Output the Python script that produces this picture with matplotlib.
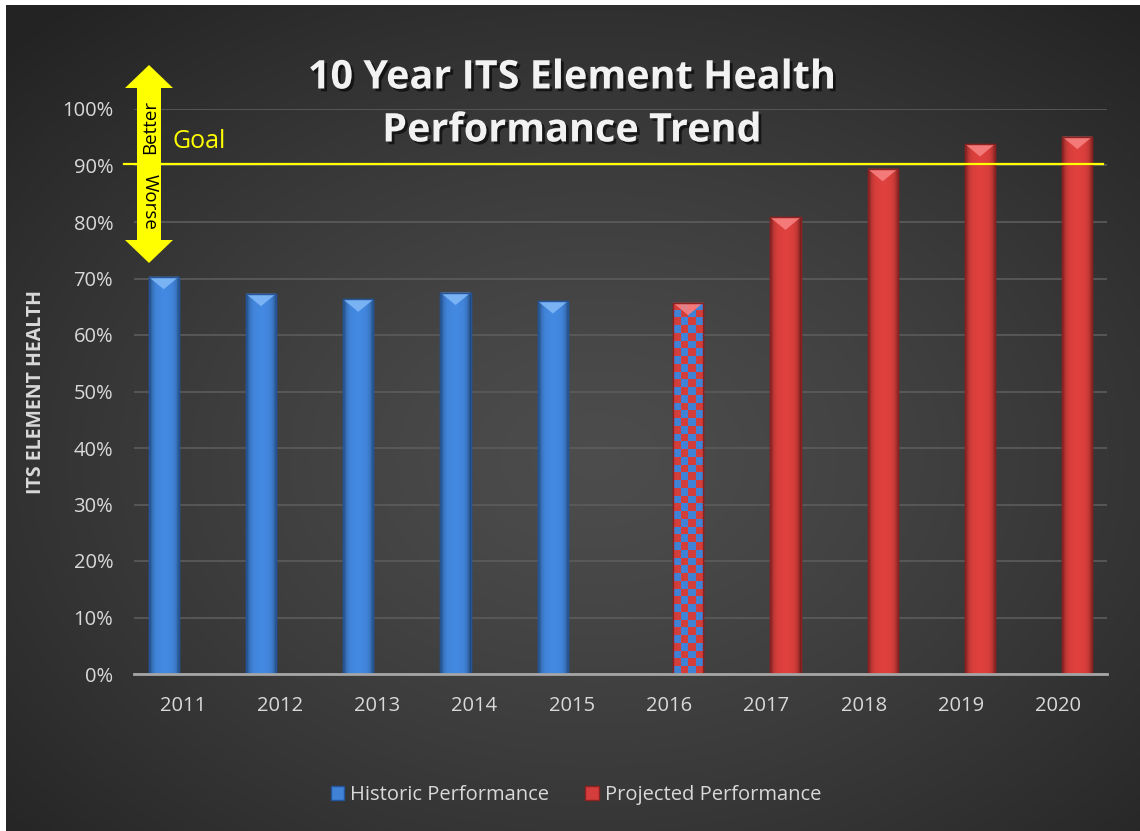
import numpy as np
import matplotlib
matplotlib.use("Agg")
import matplotlib.pyplot as plt
import matplotlib.patches as mpatches
import matplotlib.patheffects as pe

# ---- data ----
years = ["2011", "2012", "2013", "2014", "2015", "2016", "2017", "2018", "2019", "2020"]
historic = [70.3, 67.3, 66.3, 67.5, 66.0, None, None, None, None, None]
projected = [None, None, None, None, None, 65.7, 80.8, 89.4, 93.8, 95.1]
checkered_years = ["2016"]   # projected bar drawn with the blue/red checker
goal = 90.3
ytick_vals = list(range(0, 101, 10))
ytick_labels = [f"{v}%" for v in ytick_vals]

W, H = 1140, 831
plt.rcParams["font.family"] = ["Open Sans", "DejaVu Sans"]

BLUE = dict(base=(0.25, 0.51, 0.84), light=(0.50, 0.72, 0.97), dark=(0.14, 0.33, 0.60))
RED = dict(base=(0.83, 0.24, 0.23), light=(0.97, 0.50, 0.50), dark=(0.55, 0.13, 0.13))


def fx(px):
    return px / W


def fy(py):
    return 1 - py / H


def draw_bar(ax, xc, h, w, col, checker=False):
    x0, x1 = xc - w / 2, xc + w / 2
    rect = mpatches.Rectangle((x0, 0), w, h, facecolor=col["base"],
                              edgecolor=col["dark"], lw=1.0, zorder=3)
    ax.add_patch(rect)
    if checker:
        ncol = 4
        nrow = int(round(h * 5.65 / 7.8))
        ii, jj = np.indices((nrow, ncol))
        tex = np.where(((ii + jj) % 2 == 0)[..., None],
                       np.array(RED["base"]), np.array(BLUE["base"]))
        im = ax.imshow(tex, extent=(x0, x1, 0, h), aspect="auto",
                       interpolation="nearest", zorder=3.1)
    else:
        t = np.linspace(-1, 1, 64)
        shade = 1 - 0.5 * np.abs(t) ** 5 + 0.06 * (1 - np.abs(t))
        tex = np.clip(np.array(col["base"])[None, None, :] * shade[None, :, None], 0, 1)
        im = ax.imshow(tex, extent=(x0, x1, 0, h), aspect="auto",
                       interpolation="bilinear", zorder=3.1)
    im.set_clip_path(rect)
    # bevelled top
    cap = mpatches.Polygon([(x0, h), (x1, h), (xc, h - 2.2)], closed=True,
                           facecolor=col["light"], edgecolor="none", alpha=0.9, zorder=3.2)
    ax.add_patch(cap)
    ax.add_patch(mpatches.Rectangle((x0, 0), w, h, facecolor="none",
                                    edgecolor=col["dark"], lw=1.0, zorder=3.3))


fig = plt.figure(figsize=(W / 100, H / 100), dpi=100, facecolor="white")

# dark radial background
bg = fig.add_axes([fx(6), 0, 1 - fx(6), 1 - 5 / H], zorder=0)
yy, xx = np.mgrid[0:1:400j, 0:1:560j]
r = np.sqrt(((xx - 0.52) / 0.75) ** 2 + ((yy - 0.55) / 0.75) ** 2)
g = np.clip(0.30 - 0.17 * r ** 1.3, 0.14, 0.31)
bg.imshow(np.dstack([g, g, g]), extent=(0, 1, 0, 1), aspect="auto", interpolation="bilinear")
bg.axis("off")

ax = fig.add_axes([fx(134), 1 - 674 / H, fx(1107) - fx(134), (674 - 109) / H], zorder=1)
ax.patch.set_alpha(0)

x = np.arange(len(years))
w = 0.31
off = 0.195
for i, yr in enumerate(years):
    if historic[i] is not None:
        draw_bar(ax, x[i] - off, historic[i], w, BLUE)
    if projected[i] is not None:
        draw_bar(ax, x[i] + off, projected[i], w, RED, checker=yr in checkered_years)

ax.set_xlim(-0.5, len(years) - 0.5)
ax.set_ylim(0, 100)
ax.set_yticks(ytick_vals)
ax.set_yticklabels(ytick_labels)
ax.set_xticks(x)
ax.set_xticklabels(years)
ax.tick_params(length=0, colors="#d9d9d9", labelsize=14.5)
ax.tick_params(axis="y", pad=15)
ax.tick_params(axis="x", pad=16)
ax.yaxis.grid(True, color="#5c5c5c", lw=1.2)
ax.set_axisbelow(True)
for s in ["top", "right", "left"]:
    ax.spines[s].set_visible(False)
ax.spines["bottom"].set_color("#a6a6a6")
ax.spines["bottom"].set_linewidth(2)
ax.spines["bottom"].set_zorder(4)

# goal line
ax.axhline(goal, xmin=-0.01, xmax=0.996, color="#ffff00", lw=1.6, clip_on=False, zorder=5)

# titles / labels
shadow = [pe.SimplePatchShadow(offset=(2, -2), shadow_rgbFace="black", alpha=0.6), pe.Normal()]
fig.text(fx(572), fy(78), "10 Year ITS Element Health", ha="center", va="center",
         fontsize=28.5, fontweight="bold", color="#f2f2f2", path_effects=shadow)
fig.text(fx(572), fy(131), "Performance Trend", ha="center", va="center",
         fontsize=28.5, fontweight="bold", color="#f2f2f2", path_effects=shadow)
fig.text(fx(36), fy(392), "ITS ELEMENT HEALTH", rotation=90, ha="center", va="center",
         fontsize=14, fontweight="bold", color="#d9d9d9")

# better / worse arrow
pts = [(149, 65), (173, 88), (161, 88), (161, 240), (173, 240), (149, 263),
       (125, 240), (137, 240), (137, 88), (125, 88)]
arrow = mpatches.Polygon([(fx(a), fy(b)) for a, b in pts], closed=True,
                         transform=fig.transFigure, facecolor="#ffff00", edgecolor="none", zorder=6)
fig.add_artist(arrow)
fig.text(fx(150), fy(127), "Better", rotation=90, ha="center", va="center",
         fontsize=13.5, color="black", zorder=7)
fig.text(fx(150), fy(202), "Worse", rotation=-90, ha="center", va="center",
         fontsize=13.5, color="black", zorder=7)
fig.text(fx(173), fy(142), "Goal", ha="left", va="center", fontsize=18, color="#ffff00")

# legend
handles = [mpatches.Patch(facecolor=BLUE["base"], edgecolor=BLUE["dark"], label="Historic Performance"),
           mpatches.Patch(facecolor=RED["base"], edgecolor=RED["dark"], label="Projected Performance")]
fig.legend(handles=handles, loc="center", bbox_to_anchor=(fx(576), fy(795)), ncol=2,
           frameon=False, fontsize=14.5, labelcolor="#d9d9d9", handlelength=0.65,
           handleheight=0.65, handletextpad=0.3, columnspacing=1.8)

fig.savefig("out.png", dpi=100, facecolor="white")
